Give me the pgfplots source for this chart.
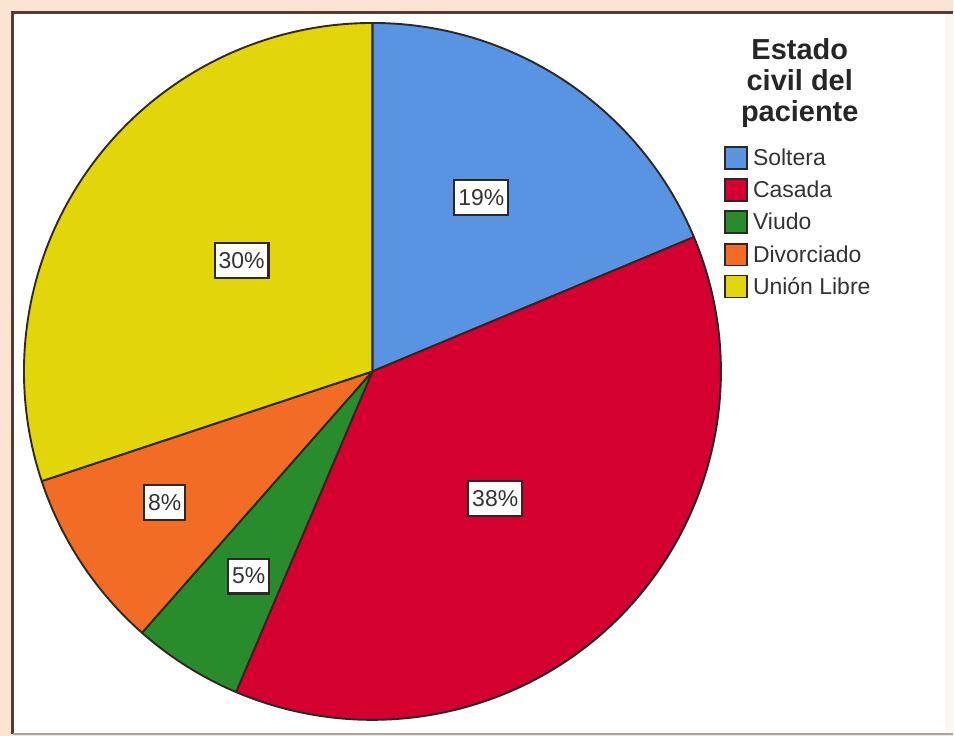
\documentclass[border=0pt]{standalone}
\usepackage{pgfplots}
\pgfplotsset{compat=1.18}
\usepackage{fontspec}
\setmainfont{Liberation Sans}
\definecolor{cSol}{RGB}{88,148,226}
\definecolor{cCas}{RGB}{212,0,48}
\definecolor{cViu}{RGB}{40,140,45}
\definecolor{cDiv}{RGB}{242,108,38}
\definecolor{cUni}{RGB}{226,214,10}
\definecolor{edge}{RGB}{45,40,35}
\definecolor{peach}{RGB}{251,228,210}
\definecolor{frame}{RGB}{80,60,50}
% pie: centre (373,365) in axis units (1 unit = 1pt), radius 349
\newcommand{\pieslice}[3]{%
  \filldraw[fill=#3, draw=edge, line width=1.9pt, line join=round]
    (axis cs:373,365) -- ++({90-3.6*(#1)}:349pt)
    arc[start angle={90-3.6*(#1)}, end angle={90-3.6*((#1)+(#2))}, radius=349pt] -- cycle;}
\newcommand{\pielabel}[3]{%
  \node[draw=edge, fill=white, line width=2.2pt, inner xsep=4pt, minimum height=35pt,
        font=\fontsize{23}{26}\selectfont, text=black!80] at (axis cs:#1,#2) {#3};}
\newcommand{\legitem}[3]{%
  \filldraw[fill=#2, draw=edge, line width=1.8pt] (axis cs:726,{737-#1-11}) rectangle (axis cs:748,{737-#1+11});
  \node[anchor=west, inner sep=0pt, font=\fontsize{23}{26}\selectfont, text=black!80] at (axis cs:754,{737-#1}) {#3};}
\begin{document}
\begin{tikzpicture}
\begin{axis}[
  width=954pt, height=737pt, scale only axis,
  xmin=0, xmax=954, ymin=0, ymax=737,
  hide axis, clip=false]
  % background and frame
  \fill[peach] (axis cs:0,0) rectangle (axis cs:954,737);
  \fill[white] (axis cs:13,2) rectangle (axis cs:954,724);
  \fill[peach!30] (axis cs:946,2) rectangle (axis cs:954,724);
  \draw[frame, line width=3pt] (axis cs:13,2) -- (axis cs:13,724) -- (axis cs:954,724);
  \draw[black!35, line width=2pt] (axis cs:13,2) -- (axis cs:954,2);
  % slices: cumulative start (%), share (%), colour
  \pieslice{0}{18.7}{cSol}
  \pieslice{18.7}{37.7}{cCas}
  \pieslice{56.4}{5.1}{cViu}
  \pieslice{61.5}{8.4}{cDiv}
  \pieslice{69.9}{30.1}{cUni}
  % labels
  \pielabel{482}{539}{19\%}
  \pielabel{496}{238}{38\%}
  \pielabel{249}{160}{5\%}
  \pielabel{165}{234}{8\%}
  \pielabel{242}{476}{30\%}
  % legend
  \node[align=center, font=\bfseries\fontsize{29}{31}\selectfont, text=black!85] at (axis cs:801,654) {Estado\\civil del\\paciente};
  \legitem{158}{cSol}{Soltera}
  \legitem{190}{cCas}{Casada}
  \legitem{222}{cViu}{Viudo}
  \legitem{255}{cDiv}{Divorciado}
  \legitem{287}{cUni}{Unión Libre}
\end{axis}
\end{tikzpicture}
\end{document}
